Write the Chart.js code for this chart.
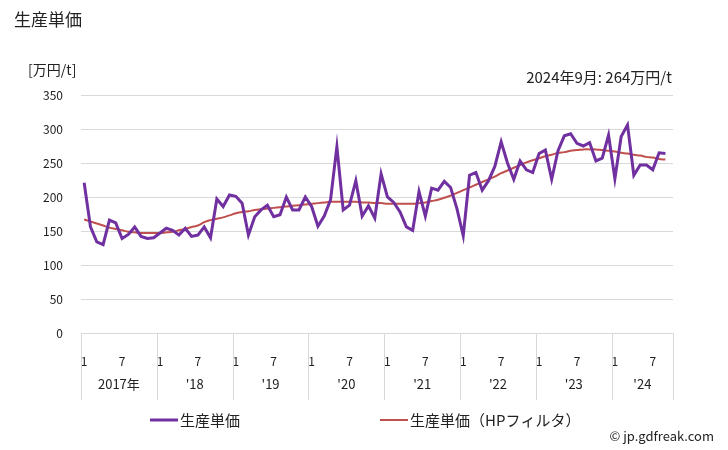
<!DOCTYPE html>
<html>
<head>
<meta charset="utf-8">
<script src="https://cdn.jsdelivr.net/npm/chart.js@4/dist/chart.umd.min.js"></script>
<style>
	html, body { margin: 0; padding: 0; background: #fff; }
	#wrap { width: 728px; height: 450px; position: relative; }
</style>
</head>
<body>
<div id="wrap"><canvas id="myChart" width="728" height="450"></canvas></div>
<script>
// 2017年1月 ～ 2024年9月 (月次)
let years = ['2017年', "'18", "'19", "'20", "'21", "'22", "'23", "'24"]
let monthTicks = ['1', '7']
let yTicks = [0, 50, 100, 150, 200, 250, 300, 350]
let price = [
	221, 156, 134, 130, 166, 162, 139, 145, 156, 142, 139, 140,
	147, 154, 151, 144, 154, 142, 144, 156, 140, 197, 186, 203,
	201, 191, 144, 171, 181, 188, 171, 174, 200, 181, 181, 200,
	186, 157, 172, 196, 274, 181, 188, 224, 172, 187, 169, 234,
	200, 192, 178, 156, 151, 208, 172, 213, 210, 223, 214, 183,
	143, 232, 236, 210, 224, 245, 281, 250, 226, 253, 240, 236,
	264, 269, 226, 268, 290, 293, 279, 275, 280, 253, 257, 291,
	227, 289, 306, 232, 247, 247, 240, 265, 264
]
let priceHP = [
	167, 164, 161, 158, 155, 153, 151, 149, 148, 147, 147, 147,
	147, 148, 149, 151, 153, 156, 158, 163, 166, 168, 170, 173,
	176, 178, 179, 181, 182, 183, 184, 185, 186, 187, 188, 189,
	190, 191, 192, 193, 193, 193, 193, 193, 192, 192, 191, 191,
	190, 190, 190, 190, 190, 191, 192, 194, 196, 199, 202, 206,
	210, 214, 218, 222, 226, 230, 235, 239, 243, 247, 251, 254,
	257, 260, 262, 265, 266, 268, 269, 270, 270, 270, 269, 268,
	267, 265, 264, 262, 261, 259, 258, 256, 255
]
let seriesNames = ['生産単価', '生産単価（HPフィルタ）']
let colors = ['#7030a0', '#c0504d']
let latestNote = '2024年9月: 264万円/t'

let font = '"Noto Sans CJK JP", "Noto Sans", sans-serif'

let toXY = arr => arr.map((v, i) => ({ x: i, y: v }))

let decoPlugin = {
	id: 'deco',
	afterDraw: chart => {
		let c = chart.ctx
		let xs = chart.scales.x
		let area = chart.chartArea
		c.save()
		c.fillStyle = '#222'
		c.textBaseline = 'middle'
		c.font = '17px ' + font
		c.textAlign = 'left'
		c.fillText('生産単価', 14, 20)
		c.font = '14px ' + font
		c.fillText('[万円/t]', 28, 70)
		c.font = '15px ' + font
		c.textAlign = 'right'
		c.fillText(latestNote, 672, 77)

		// 年の区切り
		c.strokeStyle = '#d9d9d9'
		c.lineWidth = 1
		let bottom = area.bottom + 67
		for (let k = 0; k <= years.length; k++) {
			let px = k < years.length ? xs.getPixelForValue(k * 12 - 0.5) : area.right
			px = Math.round(px) + 0.5
			c.beginPath()
			c.moveTo(px, area.bottom)
			c.lineTo(px, bottom)
			c.stroke()
		}
		c.font = '13px ' + font
		c.textAlign = 'center'
		c.fillStyle = '#222'
		years.forEach((y, k) => {
			let l = xs.getPixelForValue(k * 12 - 0.5)
			let r = k < years.length - 1 ? xs.getPixelForValue(k * 12 + 11.5) : area.right
			c.fillText(y, (l + r) / 2, 384)
		})

		// 凡例
		c.font = '15px ' + font
		c.textAlign = 'left'
		let leg = [[150, 180], [380, 410]]
		seriesNames.forEach((n, k) => {
			c.strokeStyle = colors[k]
			c.lineWidth = k === 0 ? 3 : 2
			c.beginPath()
			c.moveTo(leg[k][0], 420)
			c.lineTo(leg[k][0] + 28, 420)
			c.stroke()
			c.fillText(n, leg[k][1], 420)
		})
		c.font = '13px ' + font
		c.textAlign = 'right'
		c.fillText('© jp.gdfreak.com', 714, 436)
		c.restore()
	}
}

new Chart(document.getElementById('myChart'), {
	type: 'line',
	data: {
		datasets: [{
			label: seriesNames[0],
			data: toXY(price),
			borderColor: colors[0],
			backgroundColor: colors[0],
			borderWidth: 3,
			pointRadius: 0,
			tension: 0
		}, {
			label: seriesNames[1],
			data: toXY(priceHP),
			borderColor: colors[1],
			backgroundColor: colors[1],
			borderWidth: 2,
			pointRadius: 0,
			tension: 0.4
		}]
	},
	options: {
		responsive: false,
		animation: false,
		layout: { padding: { left: 0, right: 55, top: 95, bottom: 0 } },
		plugins: {
			legend: { display: false },
			tooltip: { enabled: false }
		},
		scales: {
			x: {
				type: 'linear',
				min: -0.5,
				max: 93.2,
				grid: { display: false },
				border: { display: false },
				afterBuildTicks: s => {
					s.ticks = price.map((v, i) => i).filter(i => i % 6 === 0).map(i => ({ value: i }))
				},
				afterFit: s => { s.height = 117 },
				ticks: {
					autoSkip: false,
					maxRotation: 0,
					padding: 13,
					color: '#222',
					font: { family: font, size: 12 },
					callback: v => monthTicks[(v % 12) / 6]
				}
			},
			y: {
				min: 0,
				max: 350,
				afterBuildTicks: s => { s.ticks = yTicks.map(v => ({ value: v })) },
				afterFit: s => { s.width = 81 },
				grid: { color: '#d9d9d9', drawTicks: false },
				border: { display: false },
				ticks: {
					padding: 18,
					color: '#222',
					font: { family: font, size: 12 }
				}
			}
		}
	},
	plugins: [decoPlugin]
})
</script>
</body>
</html>
